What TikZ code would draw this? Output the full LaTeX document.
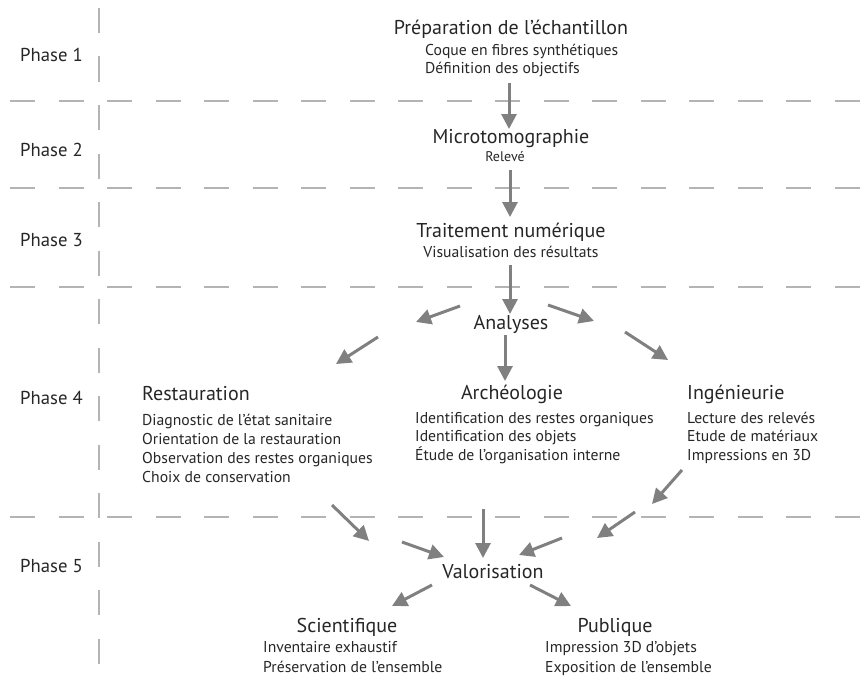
\documentclass[tikz,border=0pt]{standalone}
\usepackage{fontspec}
\setmainfont{PT Sans}
\usetikzlibrary{arrows.meta}
\definecolor{arrowgray}{HTML}{808080}
\definecolor{dashgray}{HTML}{B4B4B4}
\definecolor{txt}{HTML}{262626}
\tikzset{
  flow/.style={draw=arrowgray, line width=3pt, -{Triangle[length=15pt,width=15pt]}},
  sep/.style={draw=dashgray, line width=1.8pt, dash pattern=on 25pt off 23.5pt},
  head/.style={inner sep=0pt, text=txt, anchor=base, font=\fontsize{20}{23}\selectfont},
  items/.style={inner sep=0pt, text=txt, align=left, anchor=base west, font=\fontsize{15.7}{#1}\selectfont},
  items/.default=19,
  phase/.style={inner sep=0pt, text=txt, anchor=base west, font=\fontsize{18.7}{22}\selectfont},
}
\begin{document}
\begin{tikzpicture}[x=1pt,y=-1pt]
\useasboundingbox (0,0) rectangle (861,677);
% separators
\draw[sep] (99,8) -- (99,677);
\foreach \yy in {101,188,287,517} \draw[sep] (10,\yy) -- (861,\yy);
% phases
\node[phase] (p1) at (20,62) {Phase 1};
\node[phase] (p2) at (20,156) {Phase 2};
\node[phase] (p3) at (20,246) {Phase 3};
\node[phase] (p4) at (20,404) {Phase 4};
\node[phase] (p5) at (20,572) {Phase 5};
% phase 1 (multi-line nodes are placed by the baseline of their last line)
\node[head] (prep) at (511,35) {Préparation de l’échantillon};
\node[items=17.5] (prepi) at (425,73) {Coque en fibres synthétiques\\Définition des objectifs};
% phase 2
\node[head] (micro) at (511,143) {Microtomographie};
\node[items, anchor=base, font=\fontsize{14}{16}\selectfont] (microi) at (505,161) {Relevé};
% phase 3
\node[head] (trait) at (511,237) {Traitement numérique};
\node[items, anchor=base] (traiti) at (511,257) {Visualisation des résultats};
% phase 4
\node[head] (ana) at (511,329) {Analyses};
\node[head, anchor=base west] (rest) at (142,400) {Restauration};
\node[items] (resti) at (142,482) {Diagnostic de l’état sanitaire\\Orientation de la restauration\\Observation des restes organiques\\Choix de conservation};
\node[head] (arch) at (512,399) {Archéologie};
\node[items=18.5] (archi) at (415,460) {Identification des restes organiques\\Identification des objets\\Étude de l’organisation interne};
\node[head, anchor=base west] (ing) at (687,399) {Ingénieurie};
\node[items=18.5] (ingi) at (687,460) {Lecture des relevés\\Etude de matériaux\\Impressions en 3D};
% phase 5
\node[head] (valo) at (493,578) {Valorisation};
\node[head] (sci) at (347,632) {Scientifique};
\node[items=20] (scii) at (263,672) {Inventaire exhaustif\\Préservation de l’ensemble};
\node[head] (pub) at (615,632) {Publique};
\node[items=20] (pubi) at (545,672) {Impression 3D d’objets\\Exposition de l’ensemble};
% arrow endpoints
\coordinate (a1s) at (509,83);  \coordinate (a1e) at (509,129);
\coordinate (a2s) at (510,170); \coordinate (a2e) at (510,217);
\coordinate (a3s) at (510,265); \coordinate (a3e) at (510,314);
\coordinate (a4s) at (460,306); \coordinate (a4e) at (416,322);
\coordinate (a5s) at (548,305); \coordinate (a5e) at (594,321);
\coordinate (a6s) at (505,335); \coordinate (a6e) at (505,381);
\coordinate (a7s) at (378,337); \coordinate (a7e) at (336,364);
\coordinate (a8s) at (625,332); \coordinate (a8e) at (668,360);
\coordinate (b1s) at (332,505); \coordinate (b1e) at (369,541);
\coordinate (b2s) at (402,542); \coordinate (b2e) at (444,557);
\coordinate (b3s) at (483,509); \coordinate (b3e) at (483,558);
\coordinate (b4s) at (562,538); \coordinate (b4e) at (519,555);
\coordinate (b5s) at (635,512); \coordinate (b5e) at (597,538);
\coordinate (b6s) at (682,470); \coordinate (b6e) at (652,504);
\coordinate (c1s) at (432,585); \coordinate (c1e) at (392,606);
\coordinate (c2s) at (530,585); \coordinate (c2e) at (571,606);
\foreach \a in {a1,a2,a3,a4,a5,a6,a7,a8,b1,b2,b3,b4,b5,b6,c1,c2}
  \draw[flow] (\a s) -- (\a e);
\end{tikzpicture}
\end{document}
